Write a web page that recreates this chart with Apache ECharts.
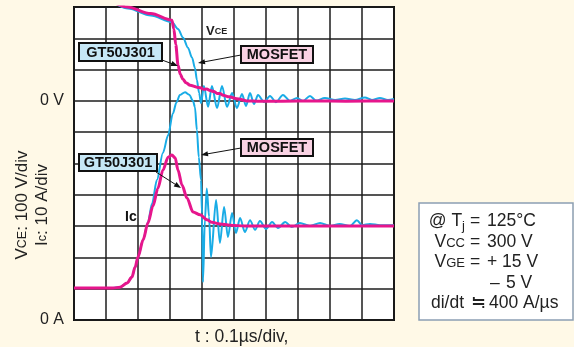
<!DOCTYPE html>
<html>
<head>
<meta charset="utf-8">
<script src="https://cdn.jsdelivr.net/npm/echarts@6/dist/echarts.min.js"></script>
<style>
  html, body { margin: 0; padding: 0; background: #fff9e7; }
  #main { width: 574px; height: 347px; }
</style>
</head>
<body>
<div id="main"></div>
<script>
// x: time in divisions (0.1us/div), y: divisions from the bottom (0 A line)
// 0 V sits on division 7 (VCE 100 V/div, Ic 10 A/div)
const vceIgbt = [
  [1.3, 10.12], [1.66, 10.0], [2.4, 9.79], [3.06, 9.58], [3.12, 9.3], [3.18, 8.8],
  [3.25, 8.15], [3.32, 7.85], [3.4, 7.7], [3.5, 7.58], [3.63, 7.5], [3.84, 7.44],
  [3.95, 7.42], [4.05, 7.37], [4.15, 7.38], [4.25, 7.33], [4.37, 7.3], [4.47, 7.24],
  [4.56, 7.24], [4.66, 7.18], [4.85, 7.13], [5.09, 7.07], [5.4, 7.0], [5.72, 6.99],
  [6.5, 6.99], [7.5, 7.0], [8.5, 6.99], [10, 7.0]
];
const vceMosfet = [
  [1.3, 10.1], [1.69, 9.95], [2.4, 9.73], [3.06, 9.52], [3.25, 9.3], [3.41, 9.02],
  [3.56, 8.7], [3.69, 8.38], [3.78, 8.05], [3.84, 7.67], [3.91, 7.25], [3.97, 6.93],
  [4.06, 7.48], [4.19, 6.81], [4.31, 7.48], [4.47, 6.77], [4.625, 7.48], [4.78, 6.81],
  [4.94, 7.25], [5.09, 6.77], [5.25, 7.22], [5.375, 6.84], [5.5, 7.25], [5.625, 6.9],
  [5.75, 7.19], [5.94, 6.96], [6.125, 7.16], [6.31, 6.96], [6.53, 7.19], [6.75, 7.0],
  [6.97, 7.09], [7.16, 7.0], [7.375, 7.16], [7.56, 7.01], [7.84, 7.09], [8.16, 7.03],
  [8.47, 7.08], [8.78, 7.03], [9.09, 7.11], [9.31, 7.03], [9.56, 7.09], [9.81, 7.03],
  [10, 7.06]
];
const icIgbt = [
  [0, 1.02], [1.22, 1.02], [1.44, 1.05], [1.66, 1.18], [1.81, 1.37], [1.91, 1.69],
  [2.0, 2.01], [2.16, 2.56], [2.31, 3.1], [2.47, 3.65], [2.62, 4.2], [2.78, 4.79],
  [2.94, 5.2], [3.06, 5.27], [3.16, 5.18], [3.25, 4.79], [3.375, 4.31], [3.53, 3.9],
  [3.72, 3.45], [3.94, 3.36], [4.16, 3.2], [4.31, 3.12], [4.56, 3.07], [4.875, 3.03],
  [5.34, 3.0], [10, 3.0]
];
const icMosfet = [
  [0, 1.02], [1.22, 1.02], [1.44, 1.05], [1.66, 1.18], [1.81, 1.37], [1.91, 1.69],
  [2.0, 2.01], [2.16, 2.56], [2.31, 3.12], [2.44, 3.72], [2.59, 4.47], [2.78, 5.34],
  [2.94, 5.9], [3.09, 6.6], [3.2, 6.95], [3.31, 7.19], [3.47, 7.28], [3.6, 7.2],
  [3.72, 7.0], [3.78, 6.8], [3.84, 6.07], [3.9, 5.2], [3.97, 4.47], [4.0, 3.4],
  [4.03, 1.21], [4.09, 3.2], [4.15, 4.2], [4.22, 3.3], [4.28, 2.01], [4.44, 3.83],
  [4.56, 2.46], [4.69, 3.61], [4.81, 2.65], [4.94, 3.42], [5.06, 2.78], [5.19, 3.26],
  [5.34, 2.81], [5.5, 3.19], [5.66, 2.88], [5.81, 3.16], [6.0, 2.91], [6.19, 3.13],
  [6.375, 2.94], [6.6, 3.13], [6.8, 2.97], [7.06, 3.1], [7.375, 3.0], [7.69, 3.1],
  [8.0, 3.0], [8.3, 3.07], [8.625, 3.0], [8.84, 3.19], [9.0, 3.03], [9.25, 3.07],
  [9.56, 3.03], [10, 3.03]
];
const yTickLabels = { 0: '0 A', 7: '0 V' };

const PINK = '#e6168c';
const BLUE = '#19ace6';
const FONT = "'Liberation Sans', Arial, sans-serif";
const CF = 17.5; // condition box font size

function arrow(x1, y1, x2, y2) {
  const a = Math.atan2(y2 - y1, x2 - x1);
  const c = Math.cos(a), s = Math.sin(a), L = 7, W = 2.6;
  return [
    { type: 'line', z: 100, shape: { x1: x1, y1: y1, x2: x2 - c * L * 0.7, y2: y2 - s * L * 0.7 },
      style: { stroke: '#111', lineWidth: 1 } },
    { type: 'polygon', z: 100, shape: { points: [
        [x2, y2], [x2 - c * L + s * W, y2 - s * L - c * W], [x2 - c * L - s * W, y2 - s * L + c * W]] },
      style: { fill: '#111' } }
  ];
}

function tag(text, x, y, w, h, fill) {
  return [
    { type: 'rect', z: 100, shape: { x: x, y: y, width: w, height: h },
      style: { fill: fill, stroke: '#111', lineWidth: 2 } },
    { type: 'text', z: 101, x: x + w / 2, y: y + h / 2 + 0.5,
      style: { text: text, font: 'bold 14.5px ' + FONT, fill: '#111', align: 'center', verticalAlign: 'middle' } }
  ];
}

function txt(text, x, y, align, rich, size) {
  return { type: 'text', z: 101, x: x, y: y,
    style: { text: text, align: align, verticalAlign: 'middle', fill: '#222',
      font: (size || CF) + 'px ' + FONT, rich: rich || {} } };
}

const condRich = {
  n: { fontSize: CF, fontFamily: FONT, color: '#222', verticalAlign: 'bottom' },
  c: { fontSize: 13, fontFamily: FONT, color: '#222', verticalAlign: 'bottom', padding: [0, 0, 1, 0] },
  j: { fontSize: 13, fontFamily: FONT, color: '#222', verticalAlign: 'bottom', padding: [0, 0, -3, 0] }
};
const axRich = {
  n: { fontSize: 17, fontFamily: FONT, color: '#222', verticalAlign: 'bottom' },
  c: { fontSize: 12.5, fontFamily: FONT, color: '#222', verticalAlign: 'bottom', padding: [0, 0, 1, 0] }
};

const yTitle1 = txt('{n|V}{c|CE}{n|: 100 V/div}', 22, 205, 'center', axRich);
yTitle1.rotation = Math.PI / 2;
const yTitle2 = txt('{n|I}{c|c}{n|: 10 A/div}', 42, 205, 'center', axRich);
yTitle2.rotation = Math.PI / 2;

const graphics = [].concat(
  tag('GT50J301', 79, 43, 83, 18, '#c6e7f6'),
  tag('MOSFET', 241, 46, 72, 17, '#f9d2e3'),
  tag('MOSFET', 241, 139, 72, 17, '#f9d2e3'),
  tag('GT50J301', 79, 154, 78, 17, '#c6e7f6'),
  arrow(162, 60, 178, 66),
  arrow(241, 55, 198, 63),
  arrow(241, 148, 201, 155),
  arrow(156, 172, 181, 188),
  [
    txt('{v|V}{s|CE}', 206, 31, 'left', {
      v: { fontSize: 13, fontWeight: 'bold', fontFamily: FONT, color: '#111', verticalAlign: 'bottom' },
      s: { fontSize: 9, fontWeight: 'bold', fontFamily: FONT, color: '#111', verticalAlign: 'bottom', padding: [0, 0, 1, 0] }
    }),
    { type: 'text', z: 101, x: 125, y: 217,
      style: { text: 'Ic', align: 'left', verticalAlign: 'middle', fill: '#111', font: 'bold 14px ' + FONT } },
    yTitle1,
    yTitle2,
    txt('t : 0.1\u00b5s/div,', 195, 337, 'left', null, 17.5),
    { type: 'rect', z: 99, shape: { x: 419, y: 203, width: 154, height: 117 },
      style: { fill: '#ffffff', stroke: '#8c9fb4', lineWidth: 1.5 } },
    txt('{n|@ T}{j|j}', 465, 221, 'right', condRich),
    txt('=', 475, 221, 'center'),
    txt('125\u00b0C', 487, 221, 'left'),
    txt('{n|V}{c|CC}', 465, 242, 'right', condRich),
    txt('=', 475, 242, 'center'),
    txt('300 V', 487, 242, 'left'),
    txt('{n|V}{c|GE}', 465, 262, 'right', condRich),
    txt('=', 475, 262, 'center'),
    txt('+ 15 V', 487, 262, 'left'),
    txt('\u2013', 490, 283, 'left'),
    txt('5 V', 506, 283, 'left'),
    txt('di/dt', 464, 303, 'right'),
    txt('\u2252', 478, 303, 'center'),
    txt('400 A/\u00b5s', 489, 303, 'left')
  ]
);

const chart = echarts.init(document.getElementById('main'));
const gridLine = { show: true, lineStyle: { color: '#1c1c1c', width: 1.5 } };
chart.setOption({
  animation: false,
  backgroundColor: '#fff9e7',
  grid: { left: 74, top: 7, width: 320, height: 313, show: true,
    backgroundColor: '#ffffff', borderColor: '#111', borderWidth: 2 },
  xAxis: { type: 'value', min: 0, max: 10, interval: 1,
    axisLabel: { show: false }, axisTick: { show: false }, axisLine: { show: false },
    splitLine: gridLine },
  yAxis: { type: 'value', min: 0, max: 10, interval: 1,
    axisTick: { show: false }, axisLine: { show: false }, splitLine: gridLine,
    axisLabel: { margin: 10, fontSize: 16, color: '#222', fontFamily: FONT,
      formatter: (v) => yTickLabels[v] || '' } },
  series: [
    { type: 'line', data: vceMosfet, showSymbol: false, smooth: 0.3, smoothMonotone: 'x',
      lineStyle: { color: BLUE, width: 2 }, z: 2 },
    { type: 'line', data: icMosfet, showSymbol: false, smooth: 0.3, smoothMonotone: 'x',
      lineStyle: { color: BLUE, width: 2 }, z: 2 },
    { type: 'line', data: vceIgbt, showSymbol: false, smooth: 0.3, smoothMonotone: 'x',
      lineStyle: { color: PINK, width: 3 }, z: 3 },
    { type: 'line', data: icIgbt, showSymbol: false, smooth: 0.3, smoothMonotone: 'x',
      lineStyle: { color: PINK, width: 3 }, z: 3 }
  ],
  graphic: graphics
});
</script>
</body>
</html>
